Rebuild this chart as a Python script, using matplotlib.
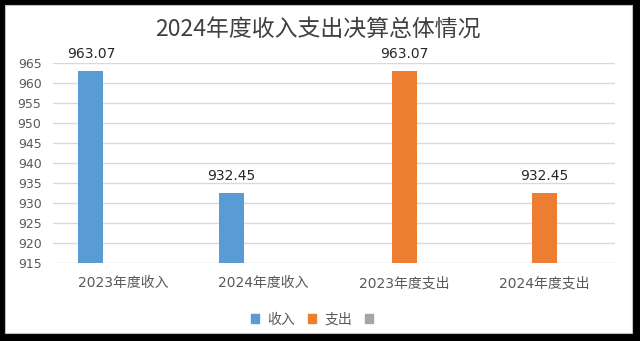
import numpy as np
import matplotlib
matplotlib.use("Agg")
import matplotlib.pyplot as plt
import matplotlib.patches as mpatches

# DejaVu first for the wide digits, CJK family picks up the Chinese glyphs
plt.rcParams['font.family'] = ['DejaVu Sans', 'Noto Sans CJK SC']

# data
categories = ['2023年度收入', '2024年度收入', '2023年度支出', '2024年度支出']
series_names = ['收入', '支出', '']
income = [963.07, 932.45, np.nan, np.nan]
expense = [np.nan, np.nan, 963.07, 932.45]
blank = [np.nan, np.nan, np.nan, np.nan]
y_ticks = [915, 920, 925, 930, 935, 940, 945, 950, 955, 960, 965]

colors = ['#5B9BD5', '#ED7D31', '#A5A5A5']
text_gray = '#595959'

fig = plt.figure(figsize=(6.4, 3.41), dpi=100, facecolor='black')

# white chart area with thin gray border inside the black frame
frame = mpatches.Rectangle((5 / 640, 8 / 341), 627 / 640, 328 / 341,
                           transform=fig.transFigure, facecolor='white',
                           edgecolor='#bfbfbf', linewidth=0.8, zorder=-10)
fig.patches.append(frame)

ax = fig.add_axes([52.7 / 640, (341 - 262.5) / 341, 562.3 / 640, 199.2 / 341])
ax.set_facecolor('none')

x = np.arange(len(categories))
offsets = [-0.228, 0.0, 0.228]
width = 0.178
base = y_ticks[0]

for vals, off, col, name in zip([income, expense, blank], offsets, colors, series_names):
    heights = np.array(vals) - base
    bars = ax.bar(x + off, heights, width, bottom=base, color=col, label=name, zorder=3)
    for xi, v in zip(x + off, vals):
        if not np.isnan(v):
            ax.annotate(f'{v:.2f}', (xi, v), xytext=(0, 9), textcoords='offset points',
                        ha='center', va='baseline', fontsize=10, color='#262626')

ax.set_xlim(-0.5, len(categories) - 0.5)
ax.set_ylim(y_ticks[0], y_ticks[-1])
ax.set_yticks(y_ticks)
ax.set_xticks(x)
ax.set_xticklabels(categories)
ax.grid(axis='y', color='#d9d9d9', linewidth=1, zorder=0)
ax.grid(axis='x', visible=False)
ax.set_axisbelow(True)
for s in ax.spines.values():
    s.set_visible(False)
ax.tick_params(axis='y', length=0, pad=8, labelsize=9, labelcolor=text_gray)
ax.tick_params(axis='x', length=0, pad=10, labelsize=10, labelcolor=text_gray)

fig.text(0.497, 1 - 30.5 / 341, '2024年度收入支出决算总体情况', ha='center', va='center',
         fontsize=16.5, color='#404040', family=['Noto Sans CJK SC', 'DejaVu Sans'])

handles = [mpatches.Patch(color=c) for c in colors]
fig.legend(handles, series_names, loc='center', bbox_to_anchor=(0.494, 1 - 319.6 / 341),
           ncol=3, frameon=False, fontsize=10, handlelength=0.6, handleheight=0.6,
           handletextpad=0.6, columnspacing=0.9, labelcolor=text_gray)

fig.savefig('out.png', dpi=100, facecolor='black')
